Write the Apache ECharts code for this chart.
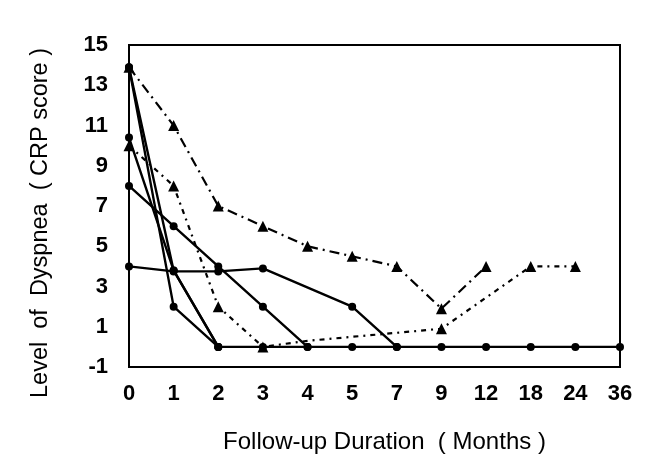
<!DOCTYPE html>
<html lang="en">
<head>
<meta charset="UTF-8">
<title>Level of Dyspnea</title>
<script src="https://cdn.jsdelivr.net/npm/echarts@6/dist/echarts.min.js"></script>
<style>
    html, body { margin: 0; padding: 0; background: #fff; }
    #chart { width: 655px; height: 466px; }
</style>
</head>
<body>
<div id="chart"></div>
<script>
// follow-up months (category axis)
var months = ['0', '1', '2', '3', '4', '5', '7', '9', '12', '18', '24', '36'];

// patients drawn with solid lines and circles
var patA = [13.9, 2, 0, 0, 0, 0, 0, 0, 0, 0, 0, 0];
var patB = [13.9, 3.8, 0];
var patC = [10.4, 3.8, 0];
var patD = [8, 6, 4, 2, 0];
var patE = [4, 3.75, 3.75, 3.9, null, 2, 0];

// patients drawn with broken lines and triangles
var patF = [13.9, 11, 7, 6, 5, 4.5, 4, 1.9, 4];
var patG = [10, 8, 2, 0, 0.3, 0.5, 0.7, 0.9, null, 4, 4];
var patGNoMark = [4, 5, 6];   // dotted stretch without triangles

var chart = echarts.init(document.getElementById('chart'));

function solid(data) {
    return {
        type: 'line',
        data: data,
        connectNulls: true,
        symbol: 'circle',
        symbolSize: 8,
        itemStyle: { color: '#000' },
        lineStyle: { color: '#000', width: 2.4 }
    };
}

function broken(data, dash) {
    return {
        type: 'line',
        data: data,
        connectNulls: true,
        symbol: 'triangle',
        symbolSize: 11,
        itemStyle: { color: '#000' },
        lineStyle: { color: '#000', width: 2.2, type: dash }
    };
}

var gData = patG.map(function (v, i) {
    return patGNoMark.indexOf(i) >= 0 ? { value: v, symbol: 'none' } : v;
});

chart.setOption({
    animation: false,
    backgroundColor: '#fff',
    grid: {
        left: 129, right: 35, top: 45, bottom: 99,
        show: true, borderColor: '#000', borderWidth: 2
    },
    xAxis: {
        type: 'category',
        data: months,
        boundaryGap: false,
        axisLine: { onZero: false, lineStyle: { color: '#000', width: 2 } },
        axisTick: { show: false },
        splitLine: { show: false },
        axisLabel: {
            color: '#000', fontSize: 22, fontWeight: 'bold',
            fontFamily: 'Liberation Sans, Arial', margin: 16
        },
        name: 'Follow-up Duration  ( Months )',
        nameLocation: 'middle',
        nameGap: 63,
        nameTextStyle: {
            color: '#000', fontSize: 24, fontFamily: 'Liberation Sans, Arial',
            padding: [0, 0, 0, 20]
        }
    },
    yAxis: {
        type: 'value',
        min: -1,
        max: 15,
        interval: 1,
        axisLine: { show: true, lineStyle: { color: '#000', width: 2 } },
        axisTick: { show: false },
        splitLine: { show: false },
        axisLabel: {
            color: '#000', fontSize: 22, fontWeight: 'bold',
            fontFamily: 'Liberation Sans, Arial', margin: 21,
            formatter: function (v) { return v % 2 !== 0 ? v : ''; }
        },
        name: 'Level  of  Dyspnea  ( CRP score )',
        nameLocation: 'middle',
        nameGap: 76,
        nameTextStyle: {
            color: '#000', fontSize: 23.5, fontFamily: 'Liberation Sans, Arial',
            padding: [0, 34, 0, 0]
        }
    },
    series: [
        solid(patA),
        solid(patB),
        solid(patC),
        solid(patD),
        solid(patE),
        broken(patF, [10, 5, 2, 5]),
        broken(gData, [5, 5, 2, 5])
    ]
});
</script>
</body>
</html>
